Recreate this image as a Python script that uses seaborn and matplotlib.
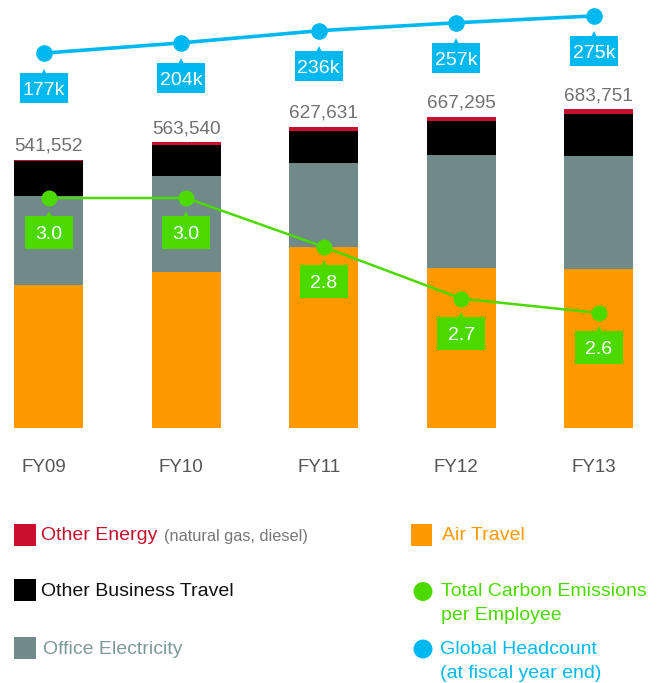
import numpy as np
import pandas as pd
import seaborn as sns
import matplotlib.pyplot as plt
import matplotlib.transforms as mtransforms
from matplotlib.patches import Rectangle, Ellipse

# data (tCO2e stacks are drawn as in the picture, totals as printed)
years = ['FY09', 'FY10', 'FY11', 'FY12', 'FY13']
air_travel = [300000, 327500, 381000, 336500, 334500]
office_electricity = [187000, 201500, 176000, 236500, 236500]
other_business_travel = [73500, 65000, 67000, 71500, 89000]
other_energy = [3000, 6500, 9000, 9000, 9000]
total_labels = ['541,552', '563,540', '627,631', '667,295', '683,751']
headcount_k = [177, 204, 236, 257, 275]
carbon_per_employee = [3.0, 3.0, 2.8, 2.7, 2.6]      # as printed
carbon_level = [3.0, 3.0, 2.83, 2.65, 2.6]           # marker heights as drawn

RED = '#c8102e'
BLACK = '#000000'
GRAY = '#6f8a89'
ORANGE = '#ff9900'
GREEN = '#4cd900'
BLUE = '#00b8f0'

sns.set_theme(style='white')
plt.rcParams['font.family'] = ['Liberation Sans', 'DejaVu Sans']

W, H = 662, 683
fig = plt.figure(figsize=(W / 100, H / 100), dpi=100)
ax = fig.add_axes([0, 0, 1, 1])

df = pd.DataFrame({'year': years, 'air': air_travel, 'elec': office_electricity,
                   'travel': other_business_travel, 'energy': other_energy})
df['s1'] = df['air']
df['s2'] = df['s1'] + df['elec']
df['s3'] = df['s2'] + df['travel']
df['s4'] = df['s3'] + df['energy']

for col, color in [('s4', RED), ('s3', BLACK), ('s2', GRAY), ('s1', ORANGE)]:
    sns.barplot(data=df, x='year', y=col, color=color, saturation=1, width=0.5,
                linewidth=0, ax=ax)

for i, lab in enumerate(total_labels):
    ax.annotate(lab, (i, df['s4'][i]), xytext=(0, 5), textcoords='offset pixels',
                ha='center', va='bottom', fontsize=13.7, color='#707070')
    ax.annotate(years[i], (i, 0), xytext=(-5, -40), textcoords='offset pixels',
                ha='center', va='center', fontsize=13.5, color='#555555')


def callout(a, x, y, text, color, dx, top, h, w=48):
    # box hanging under a marker, sizes in pixels
    at = mtransforms.ScaledTranslation(x, y, a.transData)
    px = mtransforms.Affine2D().scale(1 / 100) + fig.dpi_scale_trans + at
    a.add_patch(Rectangle((dx - w / 2, -top - h), w, h, color=color, lw=0,
                          transform=px, clip_on=False))
    a.plot([dx], [-top + 1.5], marker='^', ms=5, mew=0, color=color, ls='none',
           transform=px, clip_on=False)
    a.annotate(text, (x, y), xytext=(dx, -top - h / 2 - 7), textcoords='offset pixels',
               ha='center', va='baseline', fontsize=14, color='white')


# carbon per employee
ax2 = ax.twinx()
sns.lineplot(x=np.arange(len(years)), y=carbon_level, ax=ax2, color=GREEN, lw=1.8,
             marker='o', markersize=11.5, markeredgewidth=0)
for i, v in enumerate(carbon_per_employee):
    callout(ax2, i, carbon_level[i], f'{v:.1f}', GREEN, 0, 18, 33)

# headcount
ax3 = ax.twinx()
sns.lineplot(x=np.arange(len(years)), y=headcount_k, ax=ax3, color=BLUE, lw=2.6,
             marker='o', markersize=12, markeredgewidth=0)
shift = mtransforms.ScaledTranslation(-0.05, 0, fig.dpi_scale_trans)
for ln in ax3.lines:
    ln.set_transform(ax3.transData + shift)
for i, v in enumerate(headcount_k):
    callout(ax3, i, v, f'{v}k', BLUE, -5, 20, 30)

ax.set_ylim(-535500, 898800)
ax2.set_ylim(1.3130, 3.6887)
ax3.set_ylim(-1481.0, 316.9)
for a in (ax, ax2, ax3):
    a.set_xlim(-0.3525, 4.4586)
    a.set_axis_off()


# legend, in pixel positions of the figure
def fx(x):
    return x / W


def fy(y):
    return 1 - y / H


def square(x, y, w, h, color):
    fig.add_artist(Rectangle((fx(x), fy(y + h)), w / W, h / H, color=color,
                             transform=fig.transFigure, lw=0))


def dot(x, y, d, color):
    fig.add_artist(Ellipse((fx(x), fy(y)), d / W, d / H, color=color,
                           transform=fig.transFigure, lw=0))


square(14, 523.5, 22, 22.5, RED)
fig.text(fx(41), fy(535), 'Other Energy', color=RED, fontsize=14, va='center')
fig.text(fx(164), fy(536), '(natural gas, diesel)', color='#777777', fontsize=11.8, va='center')
square(14, 578.5, 22, 22.5, BLACK)
fig.text(fx(41), fy(591), 'Other Business Travel', color='#111111', fontsize=14, va='center')
square(14, 636.5, 22, 22.5, GRAY)
fig.text(fx(43), fy(649), 'Office Electricity', color='#7f9998', fontsize=14, va='center')

square(410.5, 523.5, 22, 22.5, ORANGE)
fig.text(fx(442), fy(536), 'Air Travel', color=ORANGE, fontsize=14, va='center')
dot(423, 591.5, 19, GREEN)
fig.text(fx(441), fy(591), 'Total Carbon Emissions', color=GREEN, fontsize=14, va='center')
fig.text(fx(441), fy(615), 'per Employee', color=GREEN, fontsize=14, va='center')
dot(423, 649, 19, BLUE)
fig.text(fx(440), fy(649), 'Global Headcount', color=BLUE, fontsize=14, va='center')
fig.text(fx(440), fy(674), '(at fiscal year end)', color=BLUE, fontsize=14, va='center')

fig.savefig('out.png', dpi=100)
